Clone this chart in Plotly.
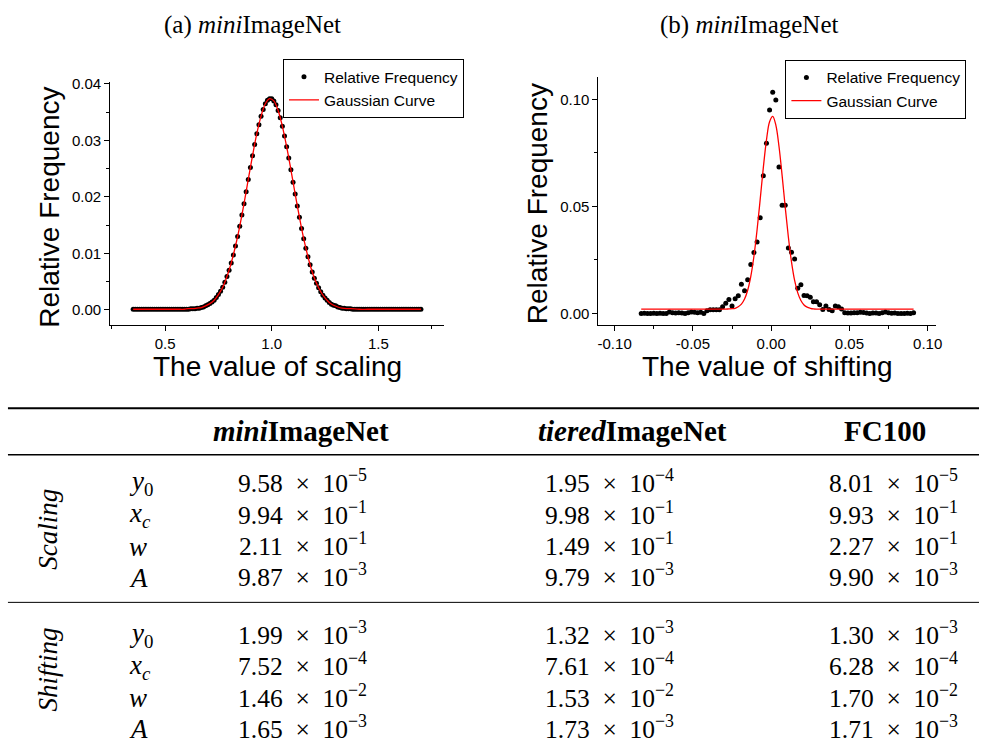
import plotly.graph_objects as go

# ---------------- data: (a) scaling ----------------
scale_x = [0.35, 0.36, 0.37, 0.38, 0.39, 0.40, 0.41, 0.42, 0.43, 0.44, 0.45, 0.46, 0.47, 0.48, 0.49,
           0.50, 0.51, 0.52, 0.53, 0.54, 0.55, 0.56, 0.57, 0.58, 0.59, 0.60, 0.61, 0.62, 0.63, 0.64,
           0.65, 0.66, 0.67, 0.68, 0.69, 0.70, 0.71, 0.72, 0.73, 0.74, 0.75, 0.76, 0.77, 0.78, 0.79,
           0.80, 0.81, 0.82, 0.83, 0.84, 0.85, 0.86, 0.87, 0.88, 0.89, 0.90, 0.91, 0.92, 0.93, 0.94,
           0.95, 0.96, 0.97, 0.98, 0.99, 1.00, 1.01, 1.02, 1.03, 1.04, 1.05, 1.06, 1.07, 1.08, 1.09,
           1.10, 1.11, 1.12, 1.13, 1.14, 1.15, 1.16, 1.17, 1.18, 1.19, 1.20, 1.21, 1.22, 1.23, 1.24,
           1.25, 1.26, 1.27, 1.28, 1.29, 1.30, 1.31, 1.32, 1.33, 1.34, 1.35, 1.36, 1.37, 1.38, 1.39,
           1.40, 1.41, 1.42, 1.43, 1.44, 1.45, 1.46, 1.47, 1.48, 1.49, 1.50, 1.51, 1.52, 1.53, 1.54,
           1.55, 1.56, 1.57, 1.58, 1.59, 1.60, 1.61, 1.62, 1.63, 1.64, 1.65, 1.66, 1.67, 1.68, 1.69,
           1.70]
scale_freq = [0.0001, 0.0001, 0.0001, 0.0001, 0.0001, 0.0001, 0.0001, 0.0001, 0.0001, 0.0001,
              0.0001, 0.0001, 0.0001, 0.0001, 0.0001, 0.0001, 0.0001, 0.0001, 0.0001, 0.0001,
              0.0001, 0.0001, 0.0001, 0.0001, 0.0001, 0.0001, 0.0001, 0.0002, 0.0002, 0.0002,
              0.0003, 0.0003, 0.0004, 0.0005, 0.0007, 0.0009, 0.0011, 0.0014, 0.0017, 0.0022,
              0.0027, 0.0033, 0.0040, 0.0049, 0.0059, 0.0070, 0.0083, 0.0097, 0.0113, 0.0130,
              0.0148, 0.0168, 0.0188, 0.0209, 0.0231, 0.0252, 0.0273, 0.0293, 0.0312, 0.0328,
              0.0343, 0.0355, 0.0365, 0.0371, 0.0374, 0.0374, 0.0370, 0.0363, 0.0353, 0.0340,
              0.0325, 0.0308, 0.0289, 0.0269, 0.0248, 0.0226, 0.0205, 0.0184, 0.0164, 0.0144,
              0.0126, 0.0109, 0.0094, 0.0080, 0.0067, 0.0056, 0.0047, 0.0039, 0.0032, 0.0026,
              0.0021, 0.0017, 0.0013, 0.0010, 0.0008, 0.0007, 0.0005, 0.0004, 0.0003, 0.0003,
              0.0002, 0.0002, 0.0002, 0.0001, 0.0001, 0.0001, 0.0001, 0.0001, 0.0001, 0.0001,
              0.0001, 0.0001, 0.0001, 0.0001, 0.0001, 0.0001, 0.0001, 0.0001, 0.0001, 0.0001,
              0.0001, 0.0001, 0.0001, 0.0001, 0.0001, 0.0001, 0.0001, 0.0001, 0.0001, 0.0001,
              0.0001, 0.0001, 0.0001, 0.0001, 0.0001, 0.0001]
scale_curve_x = [0.35, 0.37, 0.39, 0.41, 0.43, 0.45, 0.47, 0.49, 0.51, 0.53, 0.55, 0.57, 0.59,
                 0.61, 0.63, 0.65, 0.67, 0.69, 0.71, 0.73, 0.75, 0.77, 0.79, 0.81, 0.83, 0.85,
                 0.87, 0.89, 0.91, 0.93, 0.95, 0.97, 0.99, 1.01, 1.03, 1.05, 1.07, 1.09, 1.11,
                 1.13, 1.15, 1.17, 1.19, 1.21, 1.23, 1.25, 1.27, 1.29, 1.31, 1.33, 1.35, 1.37,
                 1.41, 1.45, 1.49, 1.53, 1.57, 1.61, 1.65, 1.70]
scale_curve_y = [0.0001, 0.0001, 0.0001, 0.0001, 0.0001, 0.0001, 0.0001, 0.0001, 0.0001, 0.0001,
                 0.0001, 0.0001, 0.0001, 0.0002, 0.0002, 0.0003, 0.0004, 0.0007, 0.0011, 0.0017,
                 0.0027, 0.0040, 0.0059, 0.0083, 0.0113, 0.0148, 0.0188, 0.0231, 0.0273, 0.0312,
                 0.0343, 0.0365, 0.0374, 0.0370, 0.0353, 0.0325, 0.0289, 0.0248, 0.0205, 0.0164,
                 0.0126, 0.0094, 0.0067, 0.0047, 0.0032, 0.0021, 0.0013, 0.0008, 0.0005, 0.0003,
                 0.0002, 0.0002, 0.0001, 0.0001, 0.0001, 0.0001, 0.0001, 0.0001, 0.0001, 0.0001]

# ---------------- data: (b) shifting ----------------
shift_x = [-0.083, -0.081, -0.079, -0.077, -0.075, -0.073, -0.071, -0.069, -0.067, -0.065,
           -0.063, -0.061, -0.059, -0.057, -0.055, -0.053, -0.051, -0.049, -0.047, -0.045,
           -0.043, -0.041, -0.039, -0.037, -0.035, -0.033, -0.031, -0.029, -0.027, -0.025,
           -0.023, -0.021, -0.019, -0.017, -0.015, -0.013, -0.011, -0.009, -0.007, -0.005,
           -0.003, -0.001, 0.001, 0.003, 0.005, 0.007, 0.009, 0.011, 0.013, 0.015,
           0.017, 0.019, 0.021, 0.023, 0.025, 0.027, 0.029, 0.031, 0.033, 0.035,
           0.037, 0.039, 0.041, 0.043, 0.045, 0.047, 0.049, 0.051, 0.053, 0.055,
           0.057, 0.059, 0.061, 0.063, 0.065, 0.067, 0.069, 0.071, 0.073, 0.075,
           0.077, 0.079, 0.081, 0.083, 0.085, 0.087, 0.089, 0.091]
shift_freq = [0.0000, 0.0001, 0.0000, 0.0000, 0.0001, 0.0000, 0.0001, 0.0000, 0.0000, 0.0006,
              0.0003, 0.0002, 0.0003, 0.0002, 0.0000, 0.0003, 0.0006, 0.0005, 0.0003, 0.0005,
              0.0000, 0.0012, 0.0017, 0.0017, 0.0017, 0.0017, 0.0031, 0.0048, 0.0065, 0.0035,
              0.0069, 0.0083, 0.0136, 0.0106, 0.0157, 0.0228, 0.0285, 0.0334, 0.0447, 0.0643,
              0.0795, 0.0951, 0.1033, 0.0997, 0.0684, 0.0506, 0.0506, 0.0306, 0.0286, 0.0254,
              0.0118, 0.0134, 0.0084, 0.0083, 0.0075, 0.0055, 0.0055, 0.0040, 0.0018, 0.0035,
              0.0018, 0.0012, 0.0035, 0.0031, 0.0020, 0.0003, 0.0002, 0.0002, 0.0003, 0.0003,
              0.0005, 0.0004, 0.0002, 0.0000, 0.0002, 0.0002, 0.0000, 0.0003, 0.0006, 0.0003,
              0.0001, 0.0002, 0.0000, 0.0000, 0.0000, 0.0001, 0.0000, 0.0003]
shift_curve_x = [-0.083, -0.06, -0.04, -0.031, -0.029, -0.027, -0.025, -0.023, -0.021, -0.019,
                 -0.017, -0.015, -0.013, -0.011, -0.009, -0.007, -0.005, -0.003, -0.001, 0.001,
                 0.003, 0.005, 0.007, 0.009, 0.011, 0.013, 0.015, 0.017, 0.019, 0.021,
                 0.023, 0.025, 0.027, 0.029, 0.031, 0.033, 0.045, 0.065, 0.091]
shift_curve_y = [0.0020, 0.0020, 0.0020, 0.0020, 0.0020, 0.0021, 0.0022, 0.0024, 0.0031, 0.0043,
                 0.0067, 0.0108, 0.0173, 0.0267, 0.0390, 0.0533, 0.0681, 0.0810, 0.0896, 0.0921,
                 0.0880, 0.0781, 0.0645, 0.0496, 0.0357, 0.0241, 0.0154, 0.0096, 0.0060, 0.0039,
                 0.0029, 0.0024, 0.0021, 0.0020, 0.0020, 0.0020, 0.0020, 0.0020, 0.0020]

assert len(scale_x) == len(scale_freq)
assert len(scale_curve_x) == len(scale_curve_y)
assert len(shift_x) == len(shift_freq)
assert len(shift_curve_x) == len(shift_curve_y)

scale_xticks = [0.5, 1.0, 1.5]
scale_xticktext = ["0.5", "1.0", "1.5"]
scale_yticks = [0.00, 0.01, 0.02, 0.03, 0.04]
scale_yticktext = ["0.00", "0.01", "0.02", "0.03", "0.04"]
shift_xticks = [-0.10, -0.05, 0.00, 0.05, 0.10]
shift_xticktext = ["-0.10", "-0.05", "0.00", "0.05", "0.10"]
shift_yticks = [0.00, 0.05, 0.10]
shift_yticktext = ["0.00", "0.05", "0.10"]

# ---------------- table data ----------------
datasets = ["<b><i>mini</i>ImageNet</b>", "<b><i>tiered</i>ImageNet</b>", "<b>FC100</b>"]
params = ["<i>y</i><sub>0</sub>", "<i>x</i><sub><i>c</i></sub>", "<i>w</i>", "<i>A</i>"]
groups = ["Scaling", "Shifting"]
SP = "\u2002"
scaling_vals = [
    ["9.58", "−5", "1.95", "−4", "8.01", "−5"],
    ["9.94", "−1", "9.98", "−1", "9.93", "−1"],
    ["2.11", "−1", "1.49", "−1", "2.27", "−1"],
    ["9.87", "−3", "9.79", "−3", "9.90", "−3"],
]
shifting_vals = [
    ["1.99", "−3", "1.32", "−3", "1.30", "−3"],
    ["7.52", "−4", "7.61", "−4", "6.28", "−4"],
    ["1.46", "−2", "1.53", "−2", "1.70", "−2"],
    ["1.65", "−3", "1.73", "−3", "1.71", "−3"],
]

# ---------------- layout helpers ----------------
W, H = 987, 747
def px(x):
    return x / W
def py(y):
    return 1 - y / H

SANS = "Liberation Sans, Arial, sans-serif"
SERIF = "Liberation Serif, Times New Roman, serif"

fig = go.Figure()
fig.add_trace(go.Scatter(x=scale_x, y=scale_freq, mode="markers", name="Relative Frequency",
                         marker=dict(color="black", size=5), xaxis="x", yaxis="y", legend="legend"))
fig.add_trace(go.Scatter(x=scale_curve_x, y=scale_curve_y, mode="lines", name="Gaussian Curve",
                         line=dict(color="red", width=1.3, shape="spline"), xaxis="x", yaxis="y",
                         legend="legend"))
fig.add_trace(go.Scatter(x=shift_x, y=shift_freq, mode="markers", name="Relative Frequency",
                         marker=dict(color="black", size=5), xaxis="x2", yaxis="y2", legend="legend2"))
fig.add_trace(go.Scatter(x=shift_curve_x, y=shift_curve_y, mode="lines", name="Gaussian Curve",
                         line=dict(color="red", width=1.3, shape="spline"), xaxis="x2", yaxis="y2",
                         legend="legend2"))

axis_common = dict(showline=True, linecolor="black", linewidth=1.2, ticks="outside", ticklen=5,
                   tickwidth=1.1, tickcolor="black", showgrid=False, zeroline=False,
                   tickfont=dict(family=SANS, size=15, color="black"), fixedrange=True)
minor_common = dict(ticks="outside", ticklen=3, tickwidth=1, tickcolor="black")

fig.update_layout(
    width=W, height=H, autosize=False,
    margin=dict(l=0, r=0, t=0, b=0),
    paper_bgcolor="white", plot_bgcolor="white",
    showlegend=True,
    xaxis=dict(domain=[px(110), px(446)], range=[0.2424, 1.8074], anchor="y",
               tickvals=scale_xticks, ticktext=scale_xticktext,
               minor=dict(tickvals=[0.25, 0.75, 1.25, 1.75], **minor_common), **axis_common),
    yaxis=dict(domain=[py(321.3), py(76)], range=[-0.00274, 0.0403], anchor="x",
               tickvals=scale_yticks, ticktext=scale_yticktext,
               minor=dict(tickvals=[0.005, 0.015, 0.025, 0.035], **minor_common), **axis_common),
    xaxis2=dict(domain=[px(601.7), px(941.7)], range=[-0.11034, 0.10533], anchor="y2",
                tickvals=shift_xticks, ticktext=shift_xticktext,
                minor=dict(tickvals=[-0.075, -0.025, 0.025, 0.075], **minor_common), **axis_common),
    yaxis2=dict(domain=[py(321), py(70.7)], range=[-0.00542, 0.11046], anchor="x2",
                tickvals=shift_yticks, ticktext=shift_yticktext,
                minor=dict(tickvals=[0.025, 0.075], **minor_common), **axis_common),
    legend=dict(x=px(284), y=py(52.7), xanchor="left", yanchor="top", bgcolor="white",
                bordercolor="black", borderwidth=1, tracegroupgap=0,
                font=dict(family=SANS, size=15.5, color="black")),
    legend2=dict(x=px(790), y=py(53.3), xanchor="left", yanchor="top", bgcolor="white",
                 bordercolor="black", borderwidth=1, tracegroupgap=0,
                 font=dict(family=SANS, size=15.5, color="black")),
)

ann = []
def add_text(x, y, text, size, family=SERIF, xanchor="center", yanchor="middle", angle=0):
    ann.append(dict(x=px(x), y=py(y), xref="paper", yref="paper", text=text, showarrow=False,
                    xanchor=xanchor, yanchor=yanchor, textangle=angle, borderpad=0,
                    font=dict(family=family, size=size, color="black")))

# subplot captions
add_text(253, 18, "(a) <i>mini</i>ImageNet", 25)
add_text(753, 18, "(b) <i>mini</i>ImageNet", 25)
# axis titles
add_text(48, 202, "Relative Frequency", 28, family=SANS, angle=-90)
add_text(540, 199, "Relative Frequency", 28, family=SANS, angle=-90)
add_text(278, 363, "The value of scaling", 28, family=SANS)
add_text(772, 363, "The value of shifting", 28, family=SANS)

# table
header_x = [302, 636, 890]
value_x = [304, 613, 899]
for hx, name in zip(header_x, datasets):
    add_text(hx, 428, name, 29)
scal_rows = [481, 513, 545, 576]
shift_rows = [634, 666, 698, 729]
for rows, vals in ((scal_rows, scaling_vals), (shift_rows, shifting_vals)):
    for ry, pname, rv in zip(rows, params, vals):
        add_text(128, ry, pname, 27, xanchor="left")
        for j, vx in enumerate(value_x):
            mant, expo = rv[2 * j], rv[2 * j + 1]
            txt = mant + SP + "×" + SP + "10<sup>" + expo + "</sup>"
            add_text(vx, ry - 2, txt, 25.5)
add_text(47, 527, "<i>" + groups[0] + "</i>", 27, angle=-90)
add_text(47, 669, "<i>" + groups[1] + "</i>", 27, angle=-90)

fig.update_layout(annotations=ann)

shapes = [
    dict(type="line", xref="paper", yref="paper", x0=px(7), x1=px(985), y0=py(405), y1=py(405),
         line=dict(color="black", width=2)),
    dict(type="line", xref="paper", yref="paper", x0=px(7), x1=px(985), y0=py(452), y1=py(452),
         line=dict(color="black", width=1.6)),
    dict(type="line", xref="paper", yref="paper", x0=px(7), x1=px(985), y0=py(601), y1=py(601),
         line=dict(color="black", width=1)),
]
fig.update_layout(shapes=shapes)

fig.write_html("out.html")
